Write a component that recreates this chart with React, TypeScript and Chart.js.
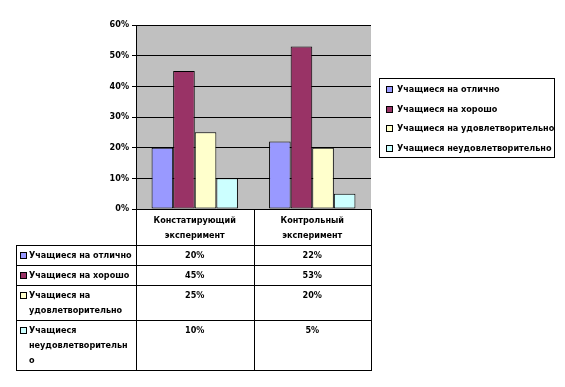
import React, { useEffect, useRef } from "react";
import { Chart, registerables } from "chart.js";

Chart.register(...registerables);

const categories: string[][] = [
  ["Констатирующий", "эксперимент"],
  ["Контрольный", "эксперимент"],
];
const seriesNames: string[] = [
  "Учащиеся на отлично",
  "Учащиеся на хорошо",
  "Учащиеся на удовлетворительно",
  "Учащиеся неудовлетворительно",
];
const excellent: number[] = [20, 22];
const good: number[] = [45, 53];
const satisfactory: number[] = [25, 20];
const unsatisfactory: number[] = [10, 5];
const seriesColors: string[] = ["#9999FF", "#993366", "#FFFFCC", "#CCFFFF"];
const yMax = 60;
const yStep = 10;

const FONT_FAMILY = "'DejaVu Sans Condensed', 'DejaVu Sans', sans-serif";
const FONT_SIZE = 9;
const FONT_WEIGHT = "bold";
const FONT = `${FONT_WEIGHT} ${FONT_SIZE}px ${FONT_FAMILY}`;
const WRAP_WIDTH = 103;

function wrapText(ctx: CanvasRenderingContext2D, text: string, maxW: number): string[] {
  const words = text.split(" ");
  const lines: string[] = [];
  let cur = "";
  for (const w of words) {
    const trial = cur ? cur + " " + w : w;
    if (ctx.measureText(trial).width <= maxW) {
      cur = trial;
      continue;
    }
    if (cur) lines.push(cur);
    if (ctx.measureText(w).width <= maxW) {
      cur = w;
    } else {
      let piece = "";
      for (const ch of w) {
        if (ctx.measureText(piece + ch).width > maxW) {
          lines.push(piece);
          piece = ch;
        } else piece += ch;
      }
      cur = piece;
    }
  }
  if (cur) lines.push(cur);
  return lines;
}

const tablePlugin = {
  id: "excelTable",
  beforeDraw(chart: any) {
    const { ctx, chartArea } = chart;
    ctx.save();
    ctx.fillStyle = "#FFFFFF";
    ctx.fillRect(0, 0, chart.width, chart.height);
    ctx.fillStyle = "#C0C0C0";
    ctx.fillRect(chartArea.left, chartArea.top, chartArea.right - chartArea.left, chartArea.bottom - chartArea.top);
    ctx.restore();
  },
  afterDraw(chart: any) {
    const { ctx, chartArea } = chart;
    const ds = chart.data.datasets;
    const nCat = chart.data.labels.length;
    const L = chartArea.left;
    const R = chartArea.right;
    const colW = (R - L) / nCat;
    const tableLeft = 16;
    const headerTop = chartArea.bottom;
    const headerH = 36;
    const lineH = 15;
    ctx.save();
    ctx.font = FONT;
    ctx.fillStyle = "#000";
    ctx.strokeStyle = "#000";
    ctx.lineWidth = 1;

    const wrapped = ds.map((d: any) => wrapText(ctx, d.label, WRAP_WIDTH));
    const rowHs = wrapped.map((ls: string[]) => ls.length * lineH + 5);
    const rowTops: number[] = [];
    let y = headerTop + headerH;
    for (const h of rowHs) {
      rowTops.push(y);
      y += h;
    }
    const bottom = y;

    const hline = (x1: number, x2: number, yy: number) => {
      ctx.beginPath();
      ctx.moveTo(x1, Math.round(yy) + 0.5);
      ctx.lineTo(x2, Math.round(yy) + 0.5);
      ctx.stroke();
    };
    const vline = (xx: number, y1: number, y2: number) => {
      ctx.beginPath();
      ctx.moveTo(Math.round(xx) + 0.5, y1);
      ctx.lineTo(Math.round(xx) + 0.5, y2);
      ctx.stroke();
    };

    hline(L, R + 1, headerTop);
    rowTops.forEach((t) => hline(tableLeft, R + 1, t));
    hline(tableLeft, R + 1, bottom);
    vline(tableLeft, headerTop + headerH, bottom + 1);
    for (let i = 0; i <= nCat; i++) vline(L + colW * i, headerTop, bottom + 1);

    ctx.textAlign = "center";
    ctx.textBaseline = "middle";
    const labels = chart.data.labels;
    for (let c = 0; c < nCat; c++) {
      const cx = L + colW * (c + 0.5);
      const lbl = labels[c];
      (Array.isArray(lbl) ? lbl : [lbl]).forEach((ln: string, i: number) => {
        ctx.fillText(ln, cx, headerTop + 11.5 + i * lineH);
      });
    }

    ds.forEach((d: any, r: number) => {
      const top = rowTops[r];
      ctx.fillStyle = d.backgroundColor;
      ctx.fillRect(20, top + 7, 6, 6);
      ctx.strokeRect(20.5, top + 7.5, 6, 6);
      ctx.fillStyle = "#000";
      ctx.textAlign = "left";
      wrapped[r].forEach((ln: string, i: number) => {
        ctx.fillText(ln, 29, top + 11 + i * lineH);
      });
      ctx.textAlign = "center";
      for (let c = 0; c < nCat; c++) {
        const cx = L + colW * (c + 0.5);
        ctx.fillText(d.data[c] + "%", cx, top + 11);
      }
    });

    const lgL = 379, lgT = 78, lgR = 554, lgB = 157;
    ctx.strokeRect(lgL + 0.5, lgT + 0.5, lgR - lgL, lgB - lgT);
    ctx.textAlign = "left";
    ds.forEach((d: any, i: number) => {
      const cy = 89 + i * 19.7;
      ctx.fillStyle = d.backgroundColor;
      ctx.fillRect(386, Math.round(cy) - 3, 6, 6);
      ctx.strokeRect(386.5, Math.round(cy) - 2.5, 6, 6);
      ctx.fillStyle = "#000";
      ctx.fillText(d.label, 397, cy + 0.5);
    });

    ctx.restore();
  },
};

export default function App() {
  const ref = useRef<HTMLCanvasElement | null>(null);
  useEffect(() => {
    document.body.style.margin = "0";
    const canvas = ref.current;
    if (!canvas) return;
    const values = [excellent, good, satisfactory, unsatisfactory];
    const chart = new Chart(canvas, {
      type: "bar",
      data: {
        labels: categories,
        datasets: seriesNames.map((name, i) => ({
          label: name,
          data: values[i],
          backgroundColor: seriesColors[i],
          borderColor: "#000000",
          borderWidth: 1,
          borderSkipped: false,
          categoryPercentage: 0.735,
          barPercentage: 1,
        })),
      },
      options: {
        responsive: false,
        animation: false,
        devicePixelRatio: 1,
        layout: { padding: { left: 0, top: 25, right: 194, bottom: 178 } },
        plugins: { legend: { display: false }, tooltip: { enabled: false } },
        scales: {
          x: { display: false },
          y: {
            min: 0,
            max: yMax,
            ticks: {
              stepSize: yStep,
              color: "#000",
              font: { family: FONT_FAMILY, size: FONT_SIZE, weight: FONT_WEIGHT },
              padding: 3,
              callback: (v: any) => v + "%",
            },
            grid: { color: "#000", tickLength: 4, lineWidth: 1 },
            border: { display: true, color: "#000" },
            afterFit: (scale: any) => {
              scale.width = 136;
            },
          },
        },
      },
      plugins: [tablePlugin],
    });
    return () => chart.destroy();
  }, []);
  return (
    <div style={{ position: "absolute", left: 0, top: 0, width: 565, height: 387 }}>
      <canvas ref={ref} width={565} height={387} style={{ width: 565, height: 387 }} />
    </div>
  );
}
